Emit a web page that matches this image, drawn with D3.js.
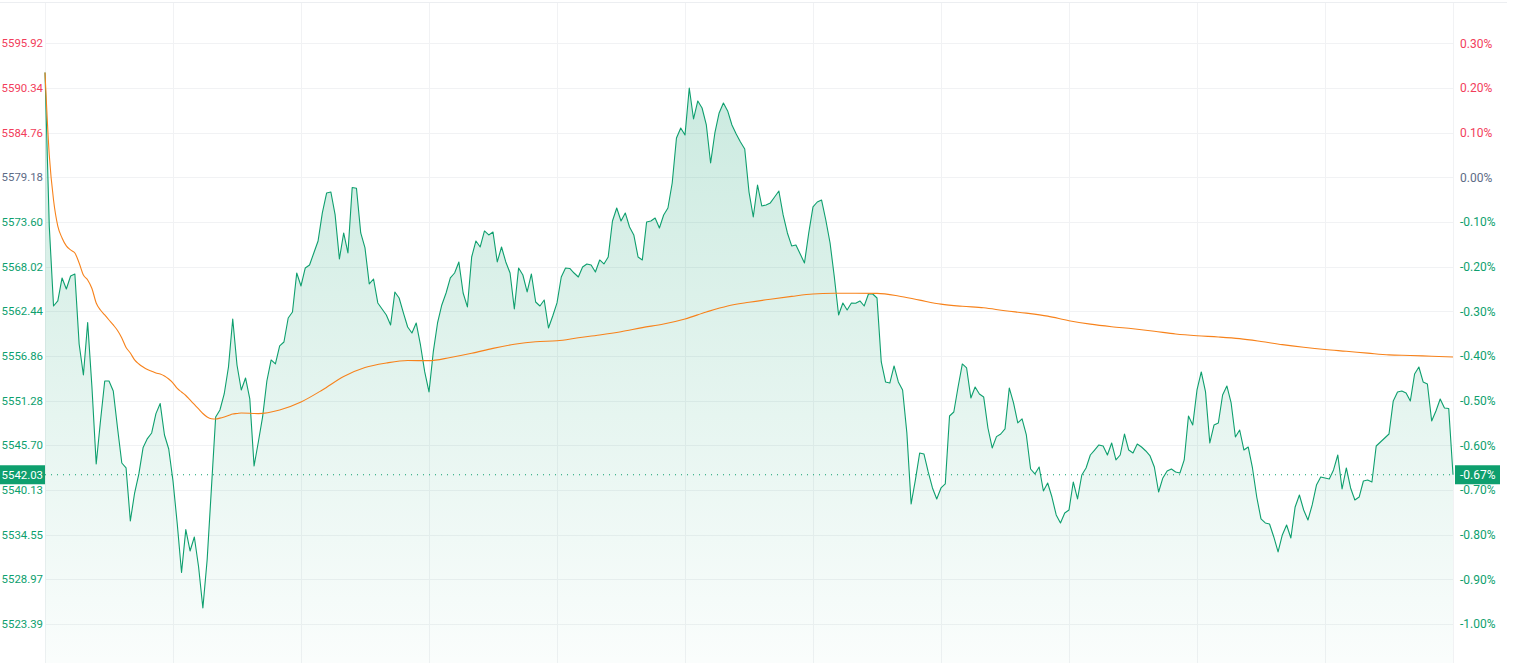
<!DOCTYPE html>
<html><head><meta charset="utf-8">
<script src="https://cdn.jsdelivr.net/npm/d3@7"></script>
<style>html,body{margin:0;padding:0;background:#fff;overflow:hidden}svg{display:block}</style>
</head><body><svg id="c" width="1513" height="663"></svg>
<script>
// one value per minute (index 0..330)
const prices = [
5592.27,5573.10,5563.11,5563.74,5566.61,5565.23,5566.86,5567.11,5558.36,5554.49,5561.05,5552.99,5543.38,5548.75,5553.74,5553.74,5552.49,5547.87,5543.50,5542.88,5536.26,5539.75,5542.13,5545.44,5546.55,5547.25,5549.67,5550.92,5547.00,5545.25,5541.25,5535.88,5529.82,5535.18,5532.51,5534.26,5530.51,5525.39,5531.39,5540.30,5549.25,5550.12,5552.12,5555.49,5561.49,5555.74,5552.62,5554.12,5551.50,5543.13,5546.12,5549.25,5553.74,5556.37,5555.87,5558.12,5558.61,
5561.61,5562.36,5567.23,5565.61,5567.86,5568.23,5569.73,5571.23,5574.73,5577.22,5577.35,5574.48,5568.98,5572.23,5569.73,5577.90,5577.82,5572.23,5570.36,5565.86,5566.48,5563.49,5562.74,5561.99,5560.74,5564.86,5564.11,5562.24,5560.49,5559.74,5560.99,5558.24,5554.87,5552.37,5557.37,5560.99,5563.24,5564.73,5566.61,5567.23,5568.61,5564.73,5562.99,5569.23,5571.23,5570.48,5572.48,5571.98,5572.35,5568.61,5570.48,5568.61,5567.23,5562.74,5567.86,
5566.98,5564.86,5567.11,5563.61,5563.11,5563.86,5560.36,5561.86,5563.49,5566.73,5567.86,5567.80,5567.23,5566.73,5567.98,5568.36,5568.23,5567.36,5568.86,5568.36,5569.23,5573.73,5575.35,5573.73,5574.73,5572.98,5571.98,5569.23,5568.86,5573.60,5573.73,5574.10,5572.85,5574.48,5575.35,5578.47,5584.09,5585.34,5584.47,5590.34,5586.47,5588.72,5587.84,5585.72,5580.97,5584.72,5587.22,5588.47,5587.47,5585.72,5584.59,5583.59,5582.72,5577.35,5574.23,5578.22,
5575.60,5575.73,5575.98,5576.72,5577.47,5574.48,5572.23,5570.61,5570.73,5569.61,5568.48,5572.23,5575.48,5576.10,5576.35,5573.85,5570.98,5566.73,5561.99,5563.49,5562.61,5563.49,5563.45,5563.74,5563.11,5564.61,5564.61,5564.11,5556.12,5553.62,5553.49,5555.62,5553.62,5552.62,5547.25,5538.38,5541.38,5544.75,5544.63,5542.38,5540.38,5539.01,5540.38,5540.88,5549.37,5549.87,5552.99,5555.87,5555.37,5551.62,5552.99,5552.12,5551.75,5547.87,5545.38,
5546.79,5547.12,5547.75,5552.87,5551.00,5548.50,5549.00,5547.00,5542.75,5542.13,5543.00,5540.00,5541.00,5539.25,5537.01,5536.01,5537.26,5537.63,5541.13,5539.01,5542.00,5542.88,5544.50,5545.12,5545.75,5545.62,5544.50,5546.00,5543.88,5544.50,5547.12,5545.12,5544.75,5545.87,5545.50,5545.00,5544.38,5543.00,5539.88,5541.63,5542.50,5542.75,5542.38,5542.25,5543.88,5549.37,5548.25,5552.62,5554.87,5552.37,5546.00,5548.25,5548.50,5551.99,5553.12,5551.00,5546.75,5547.62,
5545.12,5545.50,5542.88,5539.25,5536.51,5536.01,5535.88,5534.26,5532.39,5534.51,5535.76,5534.13,5538.01,5539.50,5537.63,5536.38,5538.26,5540.75,5541.75,5541.63,5541.50,5542.63,5544.50,5540.25,5542.88,5540.38,5538.88,5539.25,5541.25,5541.38,5541.13,5545.62,5546.12,5546.62,5547.12,5551.25,5552.37,5552.49,5552.24,5551.25,5554.62,5555.49,5553.62,5553.37,5548.75,5549.99,5551.50,5550.37,5550.30,5542.03
];
// orange average line, read at these minute indices
const avgIdx = [0,1,2,3,4,5,6,7,8,9,10,11,12,13,14,15,16,17,18,19,20,21,22,23,24,25,26,27,28,29,30,31,32,33,34,35,36,37,38,39,40,41,42,43,44,45,46,
50,55,60,65,70,75,80,85,90,95,100,105,110,115,120,125,130,135,140,145,150,155,160,165,170,175,180,185,190,195,200,205,210,215,220,225,230,235,240,245,250,255,260,265,270,275,280,285,290,295,300,305,310,315,320,325,330];
const avgValues = [5592.27,5581.97,5576.35,5573.10,5571.60,5570.61,5570.11,5569.73,5568.48,5566.98,5566.36,5565.30,5563.49,5562.61,5561.99,5561.36,5560.74,5560.05,5559.11,5557.93,5557.24,5556.37,5555.87,5555.49,5555.18,5554.96,5554.74,5554.62,5554.37,5553.99,5553.49,5552.81,5552.37,5551.93,5551.37,5550.81,5550.25,5549.68,5549.25,5549.03,5549.00,5549.10,5549.25,5549.43,5549.62,5549.68,5549.75,
5549.67,5550.12,5551.12,5552.62,5554.31,5555.43,5555.99,5556.30,5556.28,5556.68,5557.20,5557.82,5558.33,5558.65,5558.76,5559.14,5559.49,5559.90,5560.41,5560.86,5561.49,5562.36,5563.11,5563.57,5563.96,5564.31,5564.61,5564.70,5564.71,5564.68,5564.36,5563.84,5563.34,5563.07,5562.89,5562.52,5562.22,5561.84,5561.27,5560.84,5560.52,5560.26,5559.95,5559.61,5559.39,5559.24,5559.03,5558.68,5558.28,5557.95,5557.67,5557.45,5557.22,5557.00,5556.93,5556.83,5556.74];
const priceTicks = [5595.92,5590.34,5584.76,5579.18,5573.60,5568.02,5562.44,5556.86,5551.28,5545.70,5540.13,5534.55,5528.97,5523.39];
const pctTicks = [0.30,0.20,0.10,0.00,-0.10,-0.20,-0.30,-0.40,-0.50,-0.60,-0.70,-0.80,-0.90,-1.00];
const timeGridIdx = [0,30,60,90,120,150,180,210,240,270,300,330];
const baseClose = 5579.18;
const lastPrice = 5542.03;

const GREEN = "#0e9f6e", RED = "#f23d5b", GREY = "#5d6b86", ORANGE = "#f7821b", GRID = "#f1f2f4";
const svg = d3.select("#c");
const x = d3.scaleLinear().domain([0, prices.length - 1]).range([45, 1453]);
const y = d3.scaleLinear().domain([5523.39, 5595.92]).range([624, 43.3]);
const yPct = d3.scaleLinear().domain([(5523.39 / baseClose - 1) * 100, (5595.92 / baseClose - 1) * 100]).range([624, 43.3]);
const plotTop = 3, plotBottom = 663;
const font = "Roboto, 'Noto Sans', sans-serif";

const defs = svg.append("defs");
const grad = defs.append("linearGradient").attr("id", "fg").attr("gradientUnits", "userSpaceOnUse")
  .attr("x1", 0).attr("x2", 0).attr("y1", y(d3.max(prices))).attr("y2", plotBottom);
grad.append("stop").attr("offset", 0).attr("stop-color", GREEN).attr("stop-opacity", 0.22);
grad.append("stop").attr("offset", 1).attr("stop-color", GREEN).attr("stop-opacity", 0.02);

// grid
svg.append("line").attr("x1", 0).attr("x2", 1507).attr("y1", 2.5).attr("y2", 2.5).attr("stroke", "#eceef1");
svg.append("g").selectAll("line").data(priceTicks).join("line")
  .attr("x1", 45).attr("x2", 1453).attr("y1", d => Math.round(y(d)) + 0.5).attr("y2", d => Math.round(y(d)) + 0.5)
  .attr("stroke", GRID);
svg.append("g").selectAll("line").data(timeGridIdx).join("line")
  .attr("x1", d => Math.round(x(d)) + 0.5).attr("x2", d => Math.round(x(d)) + 0.5).attr("y1", plotTop).attr("y2", plotBottom)
  .attr("stroke", GRID);

// area + line
svg.append("path").datum(prices)
  .attr("d", d3.area().x((d, i) => x(i)).y0(plotBottom).y1(d => y(d)))
  .attr("fill", "url(#fg)");
svg.append("path").datum(prices)
  .attr("d", d3.line().x((d, i) => x(i)).y(d => y(d)))
  .attr("fill", "none").attr("stroke", GREEN).attr("stroke-width", 1.1).attr("stroke-linejoin", "round");

// average
svg.append("path").datum(avgValues)
  .attr("d", d3.line().x((d, k) => x(avgIdx[k])).y(d => y(d)).curve(d3.curveMonotoneX))
  .attr("fill", "none").attr("stroke", ORANGE).attr("stroke-width", 1.1);

// last price dotted line
svg.append("line").attr("x1", 45).attr("x2", 1453).attr("y1", y(lastPrice)).attr("y2", y(lastPrice))
  .attr("stroke", GREEN).attr("stroke-width", 1).attr("stroke-dasharray", "1,5");

const col = v => Math.abs(v - baseClose) < 0.005 ? GREY : (v > baseClose ? RED : GREEN);
const colP = v => Math.abs(v) < 1e-9 ? GREY : (v > 0 ? RED : GREEN);

svg.append("g").selectAll("text").data(priceTicks).join("text")
  .attr("x", 43).attr("y", d => y(d)).attr("dy", "0.35em").attr("text-anchor", "end")
  .attr("font-family", font).attr("font-size", 11.4).attr("fill", col)
  .text(d => d.toFixed(2));
svg.append("g").selectAll("text").data(pctTicks).join("text")
  .attr("x", 1460).attr("y", d => yPct(d)).attr("dy", "0.35em")
  .attr("font-family", font).attr("font-size", 12).attr("fill", colP)
  .text(d => d.toFixed(2) + "%");

// current labels
const ly = y(lastPrice);
svg.append("rect").attr("x", 0).attr("y", ly - 9.5).attr("width", 45).attr("height", 19).attr("fill", GREEN);
svg.append("text").attr("x", 43).attr("y", ly).attr("dy", "0.35em").attr("text-anchor", "end")
  .attr("font-family", font).attr("font-size", 11.4).attr("fill", "#fff").text(lastPrice.toFixed(2));
svg.append("rect").attr("x", 1455).attr("y", ly - 9.5).attr("width", 45).attr("height", 19).attr("fill", GREEN);
svg.append("text").attr("x", 1460).attr("y", ly).attr("dy", "0.35em")
  .attr("font-family", font).attr("font-size", 12).attr("fill", "#fff")
  .text(((lastPrice / baseClose - 1) * 100).toFixed(2) + "%");
</script></body></html>
